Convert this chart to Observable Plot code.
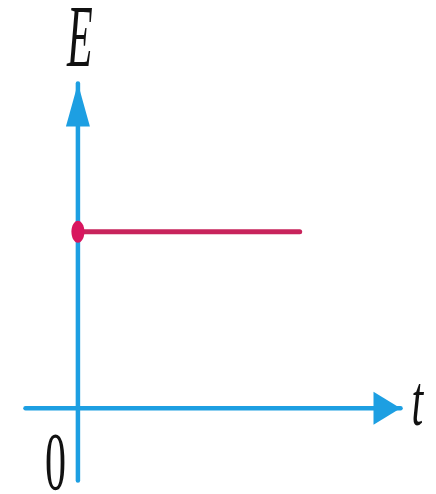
<!DOCTYPE html>
<html><head><meta charset="utf-8">
<script src="https://cdn.jsdelivr.net/npm/d3@7"></script>
<script src="https://cdn.jsdelivr.net/npm/@observablehq/plot@0.6"></script>
<style>body{margin:0;background:#fff} svg{display:block}</style>
</head><body><div id="chart"></div>
<script>
// axis extents (data units)
const tAxis = [-1.3, 8];
const eAxis = [-1.8, 8.1];
// constant field E over time
const fieldT = [0, 5.5];
const fieldE = [4.4, 4.4];
// labels
const labelE = "E";
const labelT = "t";
const labelO = "0";

const blue = "#1d9fe2";
const red = "#c8245c";

const field = fieldT.map((t, i) => ({t, E: fieldE[i]}));
const hAxis = tAxis.map(t => ({t, E: 0}));
const vAxis = eAxis.map(E => ({t: 0, E}));

const arrowUp = {draw(ctx) { ctx.moveTo(0, 0); ctx.lineTo(12, 43); ctx.lineTo(-12, 43); ctx.closePath(); }};
const arrowRight = {draw(ctx) { ctx.moveTo(0, 0); ctx.lineTo(-27, -16.5); ctx.lineTo(-27, 16.5); ctx.closePath(); }};
const ellipse = {draw(ctx) {
  const rx = 6.5, ry = 11, k = 0.5523;
  ctx.moveTo(rx, 0);
  ctx.bezierCurveTo(rx, k * ry, k * rx, ry, 0, ry);
  ctx.bezierCurveTo(-k * rx, ry, -rx, k * ry, -rx, 0);
  ctx.bezierCurveTo(-rx, -k * ry, -k * rx, -ry, 0, -ry);
  ctx.bezierCurveTo(k * rx, -ry, rx, -k * ry, rx, 0);
  ctx.closePath();
}};

const font = "'Liberation Serif', 'Times New Roman', serif";
const stretch = [2.1, 1.7, 1.95];

const chart = Plot.plot({
  width: 436, height: 494,
  marginLeft: 25, marginRight: 36, marginTop: 83, marginBottom: 14,
  x: {domain: tAxis, axis: null},
  y: {domain: eAxis, axis: null},
  style: {background: "#fff", fontFamily: font},
  marks: [
    Plot.line(hAxis, {x: "t", y: "E", stroke: blue, strokeWidth: 4.5}),
    Plot.line(vAxis, {x: "t", y: "E", stroke: blue, strokeWidth: 4.5}),
    Plot.dot([vAxis[1]], {x: "t", y: "E", symbol: arrowUp, fill: blue, stroke: "none"}),
    Plot.dot([hAxis[1]], {x: "t", y: "E", symbol: arrowRight, fill: blue, stroke: "none"}),
    Plot.line(field, {x: "t", y: "E", stroke: red, strokeWidth: 5}),
    Plot.dot([field[0]], {x: "t", y: "E", symbol: ellipse, fill: "#d8165e", stroke: "none"}),
    Plot.text([labelE], {x: () => 0, y: () => eAxis[1], text: d => d, textAnchor: "middle", lineAnchor: "bottom", dx: 2, dy: -18, fontSize: 42, fontStyle: "italic", fill: "#111"}),
    Plot.text([labelT], {x: () => tAxis[1], y: () => 0, text: d => d, textAnchor: "start", lineAnchor: "bottom", dx: 11, dy: 17, fontSize: 42, fontStyle: "italic", fill: "#111"}),
    Plot.text([labelO], {x: () => 0, y: () => eAxis[0], text: d => d, textAnchor: "end", lineAnchor: "bottom", dx: -12, dy: 8, fontSize: 42, fill: "#111"})
  ]
});
document.getElementById("chart").appendChild(chart);
d3.select(chart).selectAll('g[aria-label="text"]').each(function(_, i) {
  d3.select(this).selectAll("text").attr("transform", function() {
    return (this.getAttribute("transform") || "") + ` scale(1,${stretch[i]})`;
  });
});
</script>
</body></html>
